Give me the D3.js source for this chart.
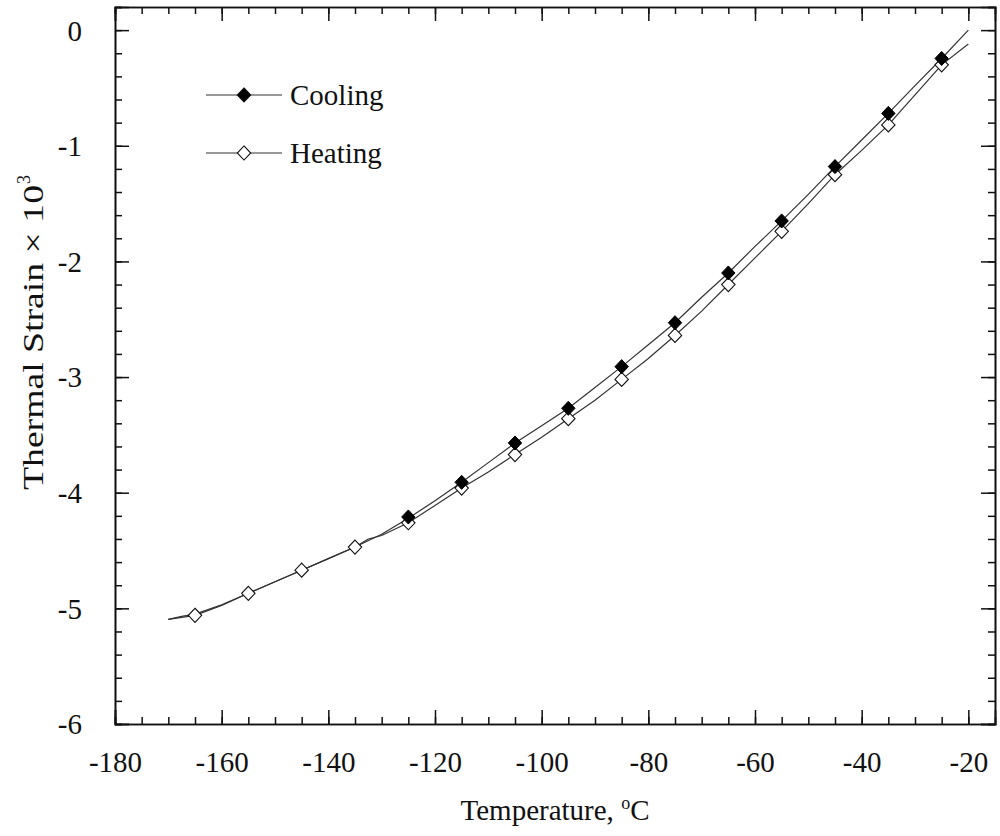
<!DOCTYPE html>
<html>
<head>
<meta charset="utf-8">
<script src="https://cdn.jsdelivr.net/npm/d3@7"></script>
<style>
	body { margin: 0; background: #fff; }
	svg text { font-family: "Liberation Serif", "Times New Roman", serif; fill: #111; }
</style>
</head>
<body>
<svg id="chart" width="1000" height="836"></svg>
<script>
'use strict';

// * data

// line traces (temperature in C, strain x 10^3)
const coolT = [-170, -167.5, -165, -160, -155, -150, -145, -140, -135, -130, -125, -120, -115, -110, -105, -100, -95, -90, -85, -80, -75, -70, -65, -60, -55, -50, -45, -40, -35, -30, -25, -20];
const coolV = [-5.095, -5.07, -5.05, -4.97, -4.87, -4.77, -4.67, -4.57, -4.47, -4.36, -4.22, -4.07, -3.91, -3.74, -3.57, -3.42, -3.27, -3.09, -2.91, -2.72, -2.53, -2.31, -2.10, -1.87, -1.65, -1.42, -1.18, -0.95, -0.72, -0.48, -0.245, 0.0];

const heatT = [-170, -165, -160, -155, -150, -145, -140, -135, -132.5, -130, -125, -120, -115, -110, -105, -100, -95, -90, -85, -80, -75, -70, -65, -60, -55, -50, -45, -40, -35, -30, -25, -20];
const heatV = [-5.095, -5.06, -4.975, -4.87, -4.77, -4.67, -4.57, -4.47, -4.40, -4.37, -4.26, -4.11, -3.96, -3.82, -3.67, -3.52, -3.36, -3.20, -3.02, -2.84, -2.64, -2.43, -2.20, -1.97, -1.74, -1.50, -1.25, -1.04, -0.82, -0.56, -0.30, -0.12];

// marker points
const coolMarkT = [-125, -115, -105, -95, -85, -75, -65, -55, -45, -35, -25];
const coolMarkV = [-4.21, -3.91, -3.57, -3.27, -2.91, -2.53, -2.10, -1.65, -1.18, -0.72, -0.245];

const heatMarkT = [-165, -155, -145, -135, -125, -115, -105, -95, -85, -75, -65, -55, -45, -35, -25];
const heatMarkV = [-5.06, -4.87, -4.67, -4.47, -4.26, -3.96, -3.67, -3.36, -3.02, -2.64, -2.20, -1.74, -1.25, -0.82, -0.30];

const xTicks = [-180, -160, -140, -120, -100, -80, -60, -40, -20];
const yTicks = [0, -1, -2, -3, -4, -5, -6];

const legendNames = ['Cooling', 'Heating'];

const SERIF = '"Liberation Serif", "Times New Roman", serif';

const zip = (a, b) => a.map((v, i) => [v, b[i]]);

// - frame
const margin = { left: 115, right: 5, top: 7, bottom: 112 };
const W = 1000, H = 836;

const svg = d3.select('#chart');

const x = d3.scaleLinear().domain([-180, -15]).range([margin.left, W - margin.right]);
const y = d3.scaleLinear().domain([-6, 0.2]).range([H - margin.bottom, margin.top]);

const minorX = d3.range(-180, -15, 5);
const minorY = d3.range(-6, 0.2001, 0.2).map(v => +v.toFixed(1));

// - axes, all ticks point inward, minor ones shorter
function drawAxes()
{
	const g = svg.append('g');

	g.append('g').attr('transform', `translate(0,${y(-6)})`)
		.call(d3.axisBottom(x).tickValues(minorX).tickSize(-7).tickFormat(''));
	g.append('g').attr('transform', `translate(0,${y(-6)})`)
		.call(d3.axisBottom(x).tickValues(xTicks).tickSize(-14).tickPadding(27).tickFormat(d3.format('d')));

	g.append('g').attr('transform', `translate(0,${y(0.2)})`)
		.call(d3.axisTop(x).tickValues(minorX).tickSize(-7).tickFormat(''));
	g.append('g').attr('transform', `translate(0,${y(0.2)})`)
		.call(d3.axisTop(x).tickValues(xTicks).tickSize(-14).tickFormat(''));

	g.append('g').attr('transform', `translate(${x(-180)},0)`)
		.call(d3.axisLeft(y).tickValues(minorY).tickSize(-7).tickFormat(''));
	const leftMajor = g.append('g').attr('transform', `translate(${x(-180)},0)`)
		.call(d3.axisLeft(y).tickValues(yTicks).tickSize(-14).tickPadding(33).tickFormat(d3.format('d')));

	g.append('g').attr('transform', `translate(${x(-15)},0)`)
		.call(d3.axisRight(y).tickValues(minorY).tickSize(-7).tickFormat(''));
	g.append('g').attr('transform', `translate(${x(-15)},0)`)
		.call(d3.axisRight(y).tickValues(yTicks).tickSize(-14).tickFormat(''));

	// d3 puts sans-serif on every axis group, override it
	g.selectAll('g').attr('font-family', SERIF).attr('font-size', 29);

	g.selectAll('.domain').attr('stroke', '#111').attr('stroke-width', 1.6);
	g.selectAll('.tick line').attr('stroke', '#111').attr('stroke-width', 1.5);
	g.selectAll('.tick text')
		.attr('font-family', SERIF)
		.attr('font-size', 29).attr('fill', '#111')
		.text(function() { return this.textContent.replace('\u2212', '-'); }); // plain hyphen like the source

	leftMajor.selectAll('.tick text').attr('dy', '0.34em');
}

// rotated square, a bit fuller than d3.symbolDiamond
const squareDiamond = {
	draw: function(context, size) {
		let r = Math.sqrt(size / 2);
		context.moveTo(0, -r * 1.05);
		context.lineTo(r, 0);
		context.lineTo(0, r * 1.05);
		context.lineTo(-r, 0);
		context.closePath();
	}
};
const diamond = d3.symbol().type(squareDiamond).size(90);

function drawSeries()
{
	const line = d3.line().x(d => x(d[0])).y(d => y(d[1]));

	svg.append('path').datum(zip(heatT, heatV))
		.attr('fill', 'none').attr('stroke', '#333').attr('stroke-width', 1.2)
		.attr('d', line);
	svg.append('path').datum(zip(coolT, coolV))
		.attr('fill', 'none').attr('stroke', '#333').attr('stroke-width', 1.2)
		.attr('d', line);

	svg.append('g').selectAll('path').data(zip(heatMarkT, heatMarkV)).join('path')
		.attr('transform', d => `translate(${x(d[0])},${y(d[1])})`)
		.attr('d', diamond).attr('fill', '#fff').attr('stroke', '#111').attr('stroke-width', 1.1);

	svg.append('g').selectAll('path').data(zip(coolMarkT, coolMarkV)).join('path')
		.attr('transform', d => `translate(${x(d[0])},${y(d[1])})`)
		.attr('d', diamond).attr('fill', '#000').attr('stroke', '#000').attr('stroke-width', 1);
}

function drawLegend()
{
	const rows = svg.append('g').selectAll('g').data(legendNames).join('g')
		.attr('transform', (d, i) => `translate(206,${95 + i * 58})`);

	rows.append('line').attr('x1', 0).attr('x2', 76)
		.attr('stroke', '#333').attr('stroke-width', 1.2);
	rows.append('path').attr('d', diamond).attr('transform', 'translate(38,0)')
		.attr('fill', (d, i) => i == 0 ? '#000' : '#fff')
		.attr('stroke', '#111').attr('stroke-width', 1.1);
	rows.append('text').attr('x', 84).attr('dy', '0.34em')
		.attr('font-family', SERIF).attr('font-size', 29).text(d => d);
}

function drawLabels()
{
	const xl = svg.append('text').attr('x', (x(-180) + x(-15)) / 2).attr('y', 820)
		.attr('text-anchor', 'middle').attr('font-family', SERIF).attr('font-size', 29);
	xl.append('tspan').text('Temperature, ');
	xl.append('tspan').text('o').attr('font-size', 18).attr('dy', -11);
	xl.append('tspan').text('C').attr('dy', 11);

	// the source label is drawn stretched along its length
	const yl = svg.append('text')
		.attr('transform', `translate(43,490) rotate(-90)`)
		.attr('font-family', SERIF).attr('font-size', 30);
	yl.append('tspan').text('Thermal Strain \u00d7 10')
		.attr('textLength', 305).attr('lengthAdjust', 'spacingAndGlyphs');
	yl.append('tspan').text('3').attr('font-size', 18).attr('dy', -13).attr('dx', 1);
}

drawAxes();
drawSeries();
drawLegend();
drawLabels();
</script>
</body>
</html>
